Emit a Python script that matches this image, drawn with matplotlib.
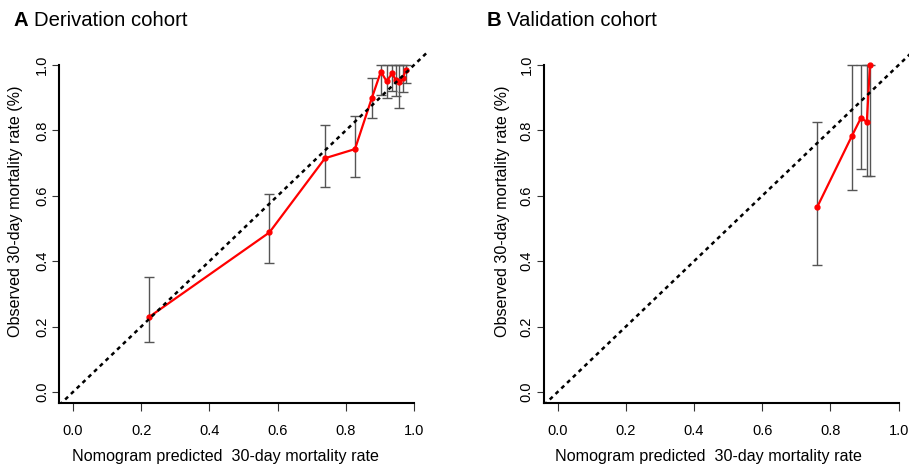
import numpy as np
import matplotlib
matplotlib.use("Agg")
import matplotlib.pyplot as plt

plt.rcParams['font.family'] = ['Liberation Sans', 'DejaVu Sans']

# ---------------------------- Calibration data ---------------------------- #
# Derivation cohort
derivPred = [0.224, 0.576, 0.739, 0.827, 0.876, 0.903, 0.920, 0.936, 0.946, 0.957, 0.967, 0.976]
derivObs = [0.230, 0.488, 0.715, 0.743, 0.898, 0.980, 0.950, 0.975, 0.955, 0.948, 0.960, 0.985]
derivLow = [0.152, 0.394, 0.626, 0.658, 0.839, 0.908, 0.900, 0.920, 0.905, 0.868, 0.918, 0.945]
derivHigh = [0.353, 0.606, 0.817, 0.845, 0.961, 1.000, 1.000, 1.000, 1.000, 1.000, 1.000, 1.000]

# Validation cohort
validPred = [0.762, 0.863, 0.889, 0.907, 0.916]
validObs = [0.567, 0.783, 0.837, 0.827, 1.000]
validLow = [0.388, 0.618, 0.682, 0.661, 0.660]
validHigh = [0.827, 1.000, 1.000, 1.000, 1.000]

tickValues = [0.0, 0.2, 0.4, 0.6, 0.8, 1.0]
tickLabels = ["0.0", "0.2", "0.4", "0.6", "0.8", "1.0"]

xLabel = "Nomogram predicted  30-day mortality rate"
yLabel = "Observed 30-day mortality rate (%)"

# ---------------------------------------------------------------------------#

W, H = 909, 467
fig = plt.figure(figsize=(W / 100, H / 100), dpi=100)

axLeft = fig.add_axes([59.4 / W, (H - 403.4) / H, 368.2 / W, 351.4 / H])
axRight = fig.add_axes([544.0 / W, (H - 403.4) / H, 368.2 / W, 351.4 / H])


def drawPanel(ax, pred, obs, low, high):
    pred = np.array(pred)
    obs = np.array(obs)
    yerr = [obs - np.array(low), np.array(high) - obs]
    # Error bars
    ax.errorbar(pred, obs, yerr=yerr, fmt='none', ecolor='#555555',
                elinewidth=1.0, capsize=3.8, capthick=1.0, zorder=2)
    # Calibration curve
    ax.plot(pred, obs, color='#ff0000', linewidth=1.6, marker='o',
            markersize=3.5, zorder=3)
    # Ideal line
    ax.plot([-0.04, 1.04], [-0.04, 1.04], color='black', linewidth=1.8,
            linestyle=(0, (1.6, 1.6)), zorder=4)

    ax.set_xlim(-0.04, 1.04)
    ax.set_ylim(-0.035, 1.04)
    ax.spines['top'].set_visible(False)
    ax.spines['right'].set_visible(False)
    ax.spines['left'].set_linewidth(1.5)
    ax.spines['bottom'].set_linewidth(1.5)
    ax.spines['left'].set_bounds(-0.035, 1.0)
    ax.spines['bottom'].set_bounds(-0.04, 1.0)

    ax.set_xticks(tickValues)
    ax.set_xticklabels(tickLabels)
    ax.set_yticks(tickValues)
    ax.set_yticklabels(tickLabels, rotation=90, va='center')
    ax.tick_params(axis='x', length=5.5, width=0.8, color='#333333',
                   labelsize=10.5, pad=9)
    ax.tick_params(axis='y', length=5.0, width=0.8, color='#333333',
                   labelsize=10.5, pad=2.5)


drawPanel(axLeft, derivPred, derivObs, derivLow, derivHigh)
drawPanel(axRight, validPred, validObs, validLow, validHigh)

# Axis labels
for xCenter, yLabX in [(225, 16), (708, 502)]:
    fig.text(xCenter / W, (H - 457) / H, xLabel, fontsize=11.6,
             ha='center', va='center')
    fig.text(yLabX / W, (H - 211) / H, yLabel, fontsize=11.6,
             ha='center', va='center', rotation=90)

# Panel titles
fig.text(13 / W, (H - 21) / H, "A", fontsize=14.6, fontweight='bold',
         ha='left', va='center')
fig.text(34 / W, (H - 21) / H, "Derivation cohort", fontsize=14.6,
         ha='left', va='center')
fig.text(487 / W, (H - 21) / H, "B", fontsize=14.6, fontweight='bold',
         ha='left', va='center')
fig.text(507.5 / W, (H - 21) / H, "Validation cohort", fontsize=14.6,
         ha='left', va='center')

fig.savefig("out.png", dpi=100)
